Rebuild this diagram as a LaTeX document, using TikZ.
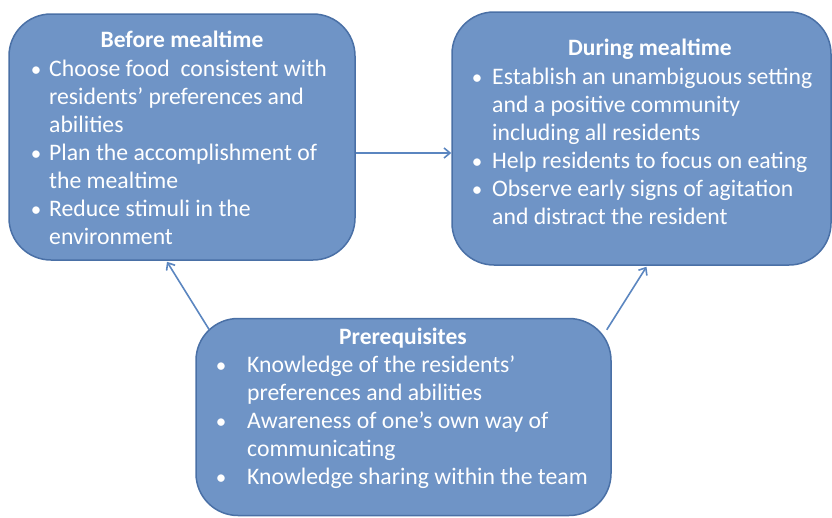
\documentclass[tikz,border=0pt]{standalone}
\usepackage{fontspec}
\setmainfont{Carlito}
\usetikzlibrary{calc,arrows.meta}
\definecolor{boxfill}{HTML}{6F94C6}
\definecolor{boxline}{HTML}{4A70A6}
\definecolor{arrcol}{HTML}{5B86C0}
\tikzset{
  box/.style={draw=boxline, line width=1.5pt, fill=boxfill, rounded corners=42pt, inner sep=0pt},
  txt/.style={text=white, font=\fontsize{23.7}{28}\selectfont, inner sep=0pt, anchor=base west},
  ttl/.style={text=white, font=\fontsize{23.5}{28}\selectfont\bfseries, inner sep=0pt, anchor=base},
  bul/.style={text=white, font=\fontsize{21}{28}\selectfont, inner sep=0pt, anchor=base},
  arr/.style={draw=arrcol, line width=1.6pt, -{Straight Barb[length=6pt,width=10pt]}}
}
\begin{document}
\begin{tikzpicture}[x=1pt,y=-1pt]
\useasboundingbox (0,0) rectangle (832,517);
% boxes
\node[box, minimum width=346pt, minimum height=246pt] (A) at (182,137) {};
\node[box, minimum width=379pt, minimum height=253pt] (B) at (641.5,138.5) {};
\node[box, minimum width=415pt, minimum height=197pt] (C) at (403.5,417) {};
% arrows
\coordinate (aout) at ($(A.east)+(0,16)$);
\coordinate (bin) at ($(B.west)+(0,14.5)$);
\draw[arr] (aout) -- (bin);
\coordinate (c1) at ($(C.north west)+(14,12)$);
\coordinate (ain) at ($(A.south)+(-15,1)$);
\draw[arr] (c1) -- (ain);
\coordinate (c2) at ($(C.north east)+(-5,12)$);
\coordinate (bin2) at ($(B.south)+(5,1)$);
\draw[arr] (c2) -- (bin2);
% box A text
\node[ttl] (at) at (182,47) {Before mealtime};
\node[bul] (ab1) at (36,76) {•};
\node[txt] (a1) at (49,76) {Choose food\ \ consistent with};
\node[txt] (a2) at (49,104) {residents’ preferences and};
\node[txt] (a3) at (49,132) {abilities};
\node[bul] (ab2) at (36,160) {•};
\node[txt] (a4) at (49,160) {Plan the accomplishment of};
\node[txt] (a5) at (49,188) {the mealtime};
\node[bul] (ab3) at (36,216) {•};
\node[txt] (a6) at (49,216) {Reduce stimuli in the};
\node[txt] (a7) at (49,244) {environment};
% box B text
\node[ttl] (bt) at (650,55) {During mealtime};
\node[bul] (bb1) at (477,84) {•};
\node[txt] (b1) at (492,84) {Establish an unambiguous setting};
\node[txt] (b2) at (492,112) {and a positive community};
\node[txt] (b3) at (492,140) {including all residents};
\node[bul] (bb2) at (477,168) {•};
\node[txt] (b4) at (492,168) {Help residents to focus on eating};
\node[bul] (bb3) at (477,196) {•};
\node[txt] (b5) at (492,196) {Observe early signs of agitation};
\node[txt] (b6) at (492,224) {and distract the resident};
% box C text
\node[ttl] (ct) at (403,344) {Prerequisites};
\node[bul] (cb1) at (221,372) {•};
\node[txt] (c1t) at (247,372) {Knowledge of the residents’};
\node[txt] (c2t) at (247,400) {preferences and abilities};
\node[bul] (cb2) at (221,428) {•};
\node[txt] (c3t) at (247,428) {Awareness of one’s own way of};
\node[txt] (c4t) at (247,456) {communicating};
\node[bul] (cb3) at (221,484) {•};
\node[txt] (c5t) at (247,484) {Knowledge sharing within the team};
\end{tikzpicture}
\end{document}
